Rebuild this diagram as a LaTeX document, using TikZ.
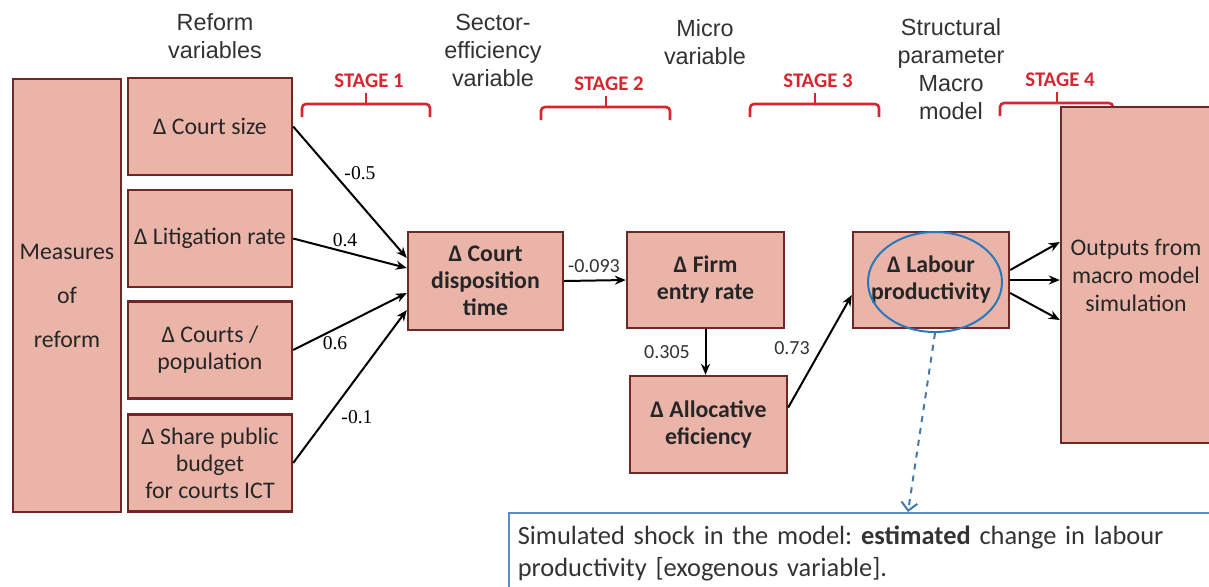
\documentclass[tikz,border=0pt]{standalone}
\usepackage{fontspec}
\setmainfont{Carlito}
\newfontfamily\arialfont{Liberation Sans}
\newfontfamily\timesfont{Liberation Serif}
\usetikzlibrary{arrows.meta,shapes.geometric,positioning}

\definecolor{boxfill}{RGB}{234,180,168}
\definecolor{boxline}{RGB}{110,40,40}
\definecolor{stagered}{RGB}{214,38,48}
\definecolor{ringblue}{RGB}{40,120,190}
\definecolor{noteblue}{RGB}{90,140,200}
\definecolor{headgray}{RGB}{50,50,50}

\tikzset{
    varbox/.style={draw=boxline, fill=boxfill, line width=1.2pt, align=center, inner sep=2pt,
        text=black!85, font=\fontsize{11.9}{13.5}\selectfont},
    boldbox/.style={varbox, font=\fontsize{11.9}{13.5}\selectfont\bfseries},
    header/.style={align=center, text=headgray, font=\arialfont\fontsize{11.7}{14}\selectfont},
    stagelabel/.style={text=stagered, font=\fontsize{10.4}{11}\selectfont\bfseries},
    stagebrace/.style={draw=stagered, line width=1.3pt, rounded corners=2pt},
    weight/.style={font=\timesfont\fontsize{9.8}{11}\selectfont, inner sep=1pt},
    weightc/.style={font=\fontsize{10}{11}\selectfont, inner sep=1pt, text=black!80},
    link/.style={-{Stealth[length=5.5pt,width=4.5pt]}, line width=1pt},
}

\begin{document}
\begin{tikzpicture}[x=0.5pt,y=-0.5pt]
    \useasboundingbox (0,0) rectangle (1209,586);
    % Headers
    \node[header] (Head-1) at (215,36) {Reform\\variables};
    \node[header] (Head-2) at (493,50) {Sector-\\efficiency\\variable};
    \node[header] (Head-3) at (705,42) {Micro\\variable};
    \node[header] (Head-4) at (951,69) {Structural\\parameter\\Macro\\model};
    % Stages
    \foreach \i/\xa/\xb/\xm/\y in {1/302/430/366/104, 2/541/670/606/107, 3/750/879/815/104, 4/1000/1113/1057/103} {
        \draw[stagebrace] (\xa,\y+13) -- (\xa,\y) -- (\xb,\y) -- (\xb,\y+13);
        \draw[stagebrace] (\xm,\y) -- (\xm,\y-11);
        \node[stagelabel] (Stage-\i) at (\xm+3,\y-23) {STAGE \i};
    }
    % Reform side
    \node[varbox, minimum width=54pt, minimum height=216.5pt, font=\fontsize{11.9}{22}\selectfont] (Measures) at (67,295.5) {Measures\\of\\reform};
    \foreach \name/\i/\y in {{Δ Court size}/1/126.5, {Δ Litigation rate}/2/238.5, {Δ Courts /\\population}/3/350, {Δ Share public\\budget\\for courts ICT}/4/463} {
        \node[varbox, minimum width=82pt, minimum height=48.5pt] (Reform-\i) at (210,\y) {\name};
    }
    % Chain
    \node[boldbox, minimum width=77.5pt, minimum height=49pt] (Disp) at (485.5,281) {Δ Court\\disposition\\time};
    \node[boldbox, minimum width=78.5pt, minimum height=48pt] (Firm) at (705.5,280) {Δ Firm\\entry rate};
    \node[boldbox, minimum width=78.5pt, minimum height=48.5pt] (Alloc) at (708.5,424.5) {Δ Allocative\\eficiency};
    \node[boldbox, minimum width=78pt, minimum height=48pt] (Labour) at (931,280) {Δ Labour\\productivity};
    \node[draw=ringblue, ellipse, line width=1pt, minimum width=67pt, minimum height=50pt] (Ring) at (935,282) {};
    \node[varbox, minimum width=75pt, minimum height=168pt, font=\fontsize{11.9}{14}\selectfont] (Outputs) at (1136,275) {Outputs from\\macro model\\simulation};
    % Note
    \node[draw=noteblue, line width=0.8pt, anchor=north west, align=left, text width=380pt,
        inner xsep=4.5pt, inner ysep=6.5pt, text=black!80, font=\fontsize{13.2}{16}\selectfont\frenchspacing] (Note) at (508,512)
        {Simulated shock in the model: \textbf{estimated} change in labour\\productivity [exogenous variable].\rule[-20pt]{0pt}{0pt}};
    \coordinate (NoteIn) at (908,512);
    % Weights
    \node[weight] (W-1) at (360,173) {-0.5};
    \node[weight] (W-2) at (345,240) {0.4};
    \node[weight] (W-3) at (335,343) {0.6};
    \node[weight] (W-4) at (357,417) {-0.1};
    \node[weightc] (W-5) at (594,266) {-0.093};
    \node[weightc] (W-6) at (667,352) {0.305};
    \node[weightc] (W-7) at (792,348) {0.73};
    % Arrows
    \foreach \i/\dy in {1/11.5,2/6.5,3/-6,4/-14.5} {
        \draw[link] (Reform-\i.east) -- ([yshift=\dy pt]Disp.west);
    }
    \draw[link] (Disp.east) -- (Firm.west);
    \draw[link] (Firm.south) -- (Firm.south |- Alloc.north);
    \draw[link] ([yshift=8.5pt]Alloc.east) -- ([yshift=-7.5pt]Labour.west);
    \draw[link] ([yshift=5pt]Labour.east) -- ([yshift=16.5pt]Outputs.west);
    \draw[link] (Labour.east) -- (Labour.east -| Outputs.west);
    \draw[link] ([yshift=-6.5pt]Labour.east) -- ([yshift=-22.5pt]Outputs.west);
    \draw[ringblue!70!gray, dashed, line width=1pt, -{Straight Barb[length=4pt]}] (Ring.south) -- (NoteIn);
\end{tikzpicture}
\end{document}
